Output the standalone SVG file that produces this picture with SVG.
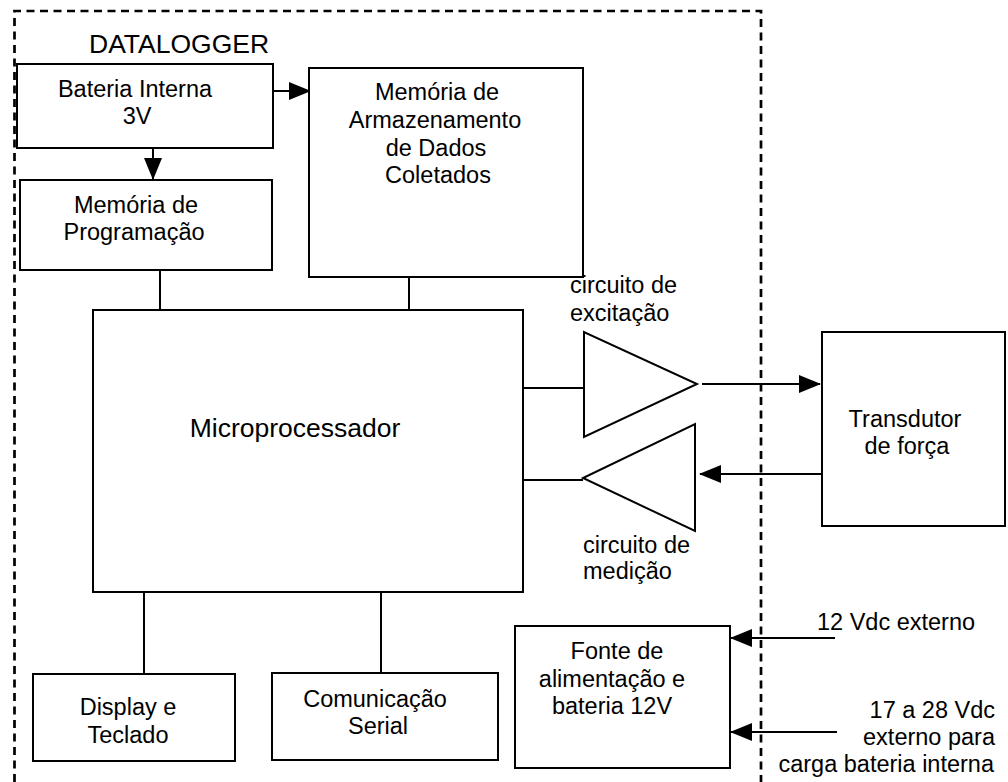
<svg xmlns="http://www.w3.org/2000/svg" width="1008" height="782" viewBox="0 0 1008 782">
<style>
.box{fill:#fff;stroke:#000;stroke-width:2}
.ln{fill:none;stroke:#000;stroke-width:2}
.arr{fill:none;stroke:#000;stroke-width:2;marker-end:url(#ah)}
text{font-family:"Liberation Sans",Arial,sans-serif;font-size:23.5px;fill:#000}
.c{text-anchor:middle}
.e{text-anchor:end}
.big{font-size:26.5px}
</style>
<defs>
<marker id="ah" viewBox="0 0 22 18" refX="21" refY="9" markerWidth="22" markerHeight="18" markerUnits="userSpaceOnUse" orient="auto">
<path d="M0,0 L22,9 L0,18 Z" fill="#000"/>
</marker>
</defs>
<rect width="1008" height="782" fill="#fff"/>
<g id="datalogger-border">
<path d="M14.5,782 V11 H761 V782" fill="none" stroke="#000" stroke-width="2.7" stroke-dasharray="8 5.5"/>
<text x="89" y="53" class="big">DATALOGGER</text>
</g>
<g id="connectors">
<line class="arr" x1="273" y1="91" x2="310" y2="91"/>
<line class="arr" x1="153" y1="148" x2="153" y2="179"/>
<line class="ln" x1="160" y1="270" x2="160" y2="310"/>
<line class="ln" x1="409" y1="277" x2="409" y2="310"/>
<line class="ln" x1="523" y1="388" x2="584" y2="388"/>
<line class="ln" x1="523" y1="480" x2="583" y2="480"/>
<line class="arr" x1="702" y1="384" x2="820" y2="384"/>
<line class="arr" x1="822" y1="474" x2="700" y2="474"/>
<line class="ln" x1="144" y1="592" x2="144" y2="674"/>
<line class="ln" x1="381" y1="592" x2="381" y2="673"/>
<line class="arr" x1="835" y1="638" x2="731" y2="638"/>
<line class="arr" x1="837" y1="732" x2="731" y2="732"/>
</g>
<g id="bateria-interna">
<rect class="box" x="17" y="64" width="256" height="84"/>
<text class="c" x="135" y="97">Bateria Interna</text>
<text class="c" x="137" y="124">3V</text>
</g>
<g id="memoria-programacao">
<rect class="box" x="20" y="180" width="252" height="90"/>
<text class="c" x="136" y="213">Memória de</text>
<text class="c" x="134" y="240">Programação</text>
</g>
<g id="memoria-armazenamento">
<rect class="box" x="309" y="68" width="274" height="209"/>
<text class="c" x="437" y="100">Memória de</text>
<text class="c" x="435" y="128">Armazenamento</text>
<text class="c" x="436" y="156">de Dados</text>
<text class="c" x="438" y="183">Coletados</text>
</g>
<g id="microprocessador">
<rect class="box" x="93" y="310" width="430" height="282"/>
<text class="c big" x="295" y="437">Microprocessador</text>
</g>
<g id="circuito-excitacao">
<polygon class="box" points="584,332 584,437 697,384"/>
<text x="570" y="293">circuito de</text>
<text x="570" y="321">excitação</text>
</g>
<g id="circuito-medicao">
<polygon class="box" points="695,424 695,531 583,478"/>
<text x="583" y="553">circuito de</text>
<text x="583" y="579">medição</text>
</g>
<g id="transdutor">
<rect class="box" x="822" y="332" width="183" height="194"/>
<text class="c" x="905" y="427">Transdutor</text>
<text class="c" x="907" y="454">de força</text>
</g>
<g id="display">
<rect class="box" x="33" y="674" width="202" height="87"/>
<text class="c" x="128" y="715">Display e</text>
<text class="c" x="128" y="743">Teclado</text>
</g>
<g id="comunicacao">
<rect class="box" x="272" y="673" width="226" height="87"/>
<text class="c" x="375" y="707">Comunicação</text>
<text class="c" x="378" y="734">Serial</text>
</g>
<g id="fonte">
<rect class="box" x="515" y="626" width="215" height="142"/>
<text class="c" x="617" y="659">Fonte de</text>
<text class="c" x="612" y="687">alimentação e</text>
<text class="c" x="612" y="714">bateria 12V</text>
</g>
<g id="ext-labels">
<text x="817" y="630">12 Vdc externo</text>
<text class="e" x="995" y="718">17 a 28 Vdc</text>
<text class="e" x="995" y="745">externo para</text>
<text class="e" x="994" y="772">carga bateria interna</text>
</g>
</svg>
